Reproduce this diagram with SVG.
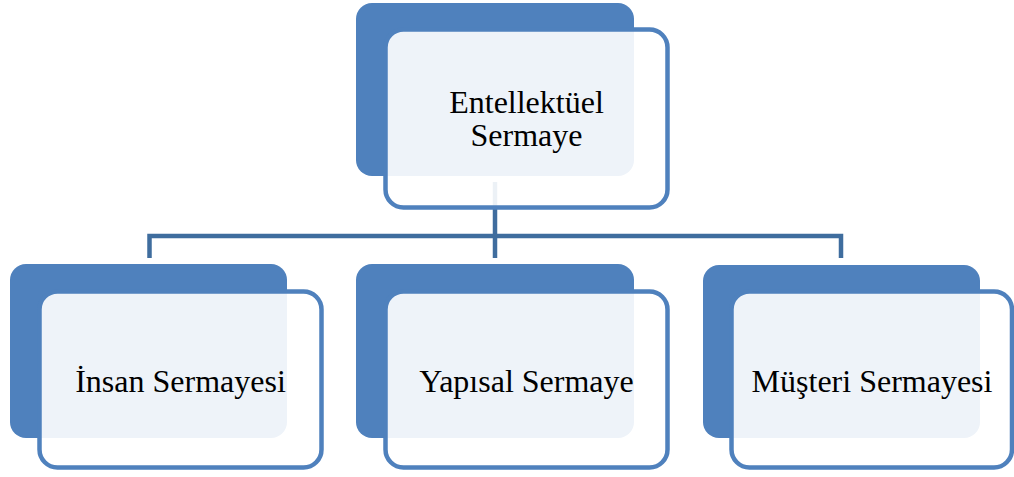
<svg xmlns="http://www.w3.org/2000/svg" width="1014" height="477" viewBox="0 0 1014 477">
<style>
.back{fill:#4F81BD}
.front{fill:#FFFFFF;fill-opacity:0.9;stroke:#4F81BD;stroke-width:4.5}
.conn{fill:none;stroke:#3F6D9E;stroke-width:4.5}
.lbl{font-family:"Liberation Serif","Times New Roman",serif;font-size:32px;fill:#000;text-anchor:middle}
</style>
<rect width="1014" height="477" fill="#FFFFFF"/>
<g id="connectors">
<path class="conn" d="M495,182 V236"/>
<path class="conn" d="M149.5,258 V236 H841 V258"/>
<path class="conn" d="M495,236 V258"/>
</g>
<g id="node-entellektuel">
<rect class="back" x="356" y="3" width="278" height="173" rx="16"/>
<rect class="front" x="385.5" y="29.5" width="282" height="178" rx="18"/>
<text class="lbl" x="526.5" y="113">Entellektüel</text>
<text class="lbl" x="526.5" y="146">Sermaye</text>
</g>
<g id="node-insan">
<rect class="back" x="10" y="264" width="277" height="174" rx="16"/>
<rect class="front" x="39.5" y="291.5" width="282" height="176" rx="18"/>
<text class="lbl" x="180.5" y="392">İnsan Sermayesi</text>
</g>
<g id="node-yapisal">
<rect class="back" x="356" y="264" width="278" height="174" rx="16"/>
<rect class="front" x="385.5" y="291.5" width="282" height="176" rx="18"/>
<text class="lbl" x="526.5" y="392">Yapısal Sermaye</text>
</g>
<g id="node-musteri">
<rect class="back" x="703" y="265" width="277" height="173" rx="16"/>
<rect class="front" x="731.5" y="291.5" width="280.5" height="176" rx="18"/>
<text class="lbl" x="872" y="392">Müşteri Sermayesi</text>
</g>
</svg>
